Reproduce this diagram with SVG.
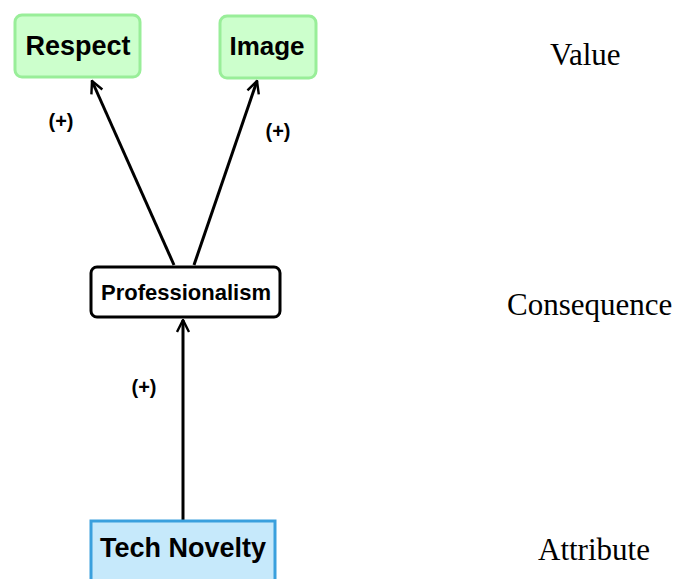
<svg xmlns="http://www.w3.org/2000/svg" width="683" height="579" viewBox="0 0 683 579">
<style>
.val rect{fill:#ccffcc;stroke:#99ee99;stroke-width:3}
.nt{font-family:"Liberation Sans",Arial,sans-serif;font-weight:bold;text-anchor:middle;fill:#000}
.lbl{font-family:"Liberation Sans",Arial,sans-serif;font-weight:bold;font-size:20px;fill:#000;text-anchor:middle}
.lev{font-family:"Liberation Serif","Times New Roman",serif;font-size:31px;fill:#000}
.edge{stroke:#000;stroke-width:3;fill:none}
</style>
<defs>
<marker id="ah" viewBox="0 0 10 10" refX="9" refY="5" markerWidth="5" markerHeight="5" orient="auto" markerUnits="strokeWidth">
<path d="M1,1 L9,5 L1,9" fill="none" stroke="#000" stroke-width="1.6"/>
</marker>
</defs>
<rect width="683" height="579" fill="#fff"/>
<g id="connectors">
<line class="edge" x1="174" y1="265" x2="92" y2="81" marker-end="url(#ah)"/>
<line class="edge" x1="194" y1="265" x2="257" y2="81" marker-end="url(#ah)"/>
<line class="edge" x1="183" y1="520" x2="183" y2="320" marker-end="url(#ah)"/>
<text class="lbl" x="61" y="128">(+)</text>
<text class="lbl" x="278" y="138">(+)</text>
<text class="lbl" x="144" y="394">(+)</text>
</g>
<g id="respect" class="val">
<rect x="15" y="15" width="125" height="62" rx="7"/>
<text class="nt" x="78" y="55" font-size="27">Respect</text>
</g>
<g id="image" class="val">
<rect x="220" y="16" width="96" height="62" rx="7"/>
<text class="nt" x="267" y="55" font-size="26">Image</text>
</g>
<g id="professionalism">
<rect x="91" y="267" width="189" height="50" rx="6" fill="#fff" stroke="#000" stroke-width="3"/>
<text class="nt" x="186" y="300" font-size="22">Professionalism</text>
</g>
<g id="technovelty">
<rect x="91" y="521" width="184" height="62" fill="#c6e9fb" stroke="#3aa0dd" stroke-width="3"/>
<text class="nt" x="183" y="557" font-size="27">Tech Novelty</text>
</g>
<g id="levels">
<text class="lev" x="550" y="65">Value</text>
<text class="lev" x="507" y="315">Consequence</text>
<text class="lev" x="538" y="560">Attribute</text>
</g>
</svg>
